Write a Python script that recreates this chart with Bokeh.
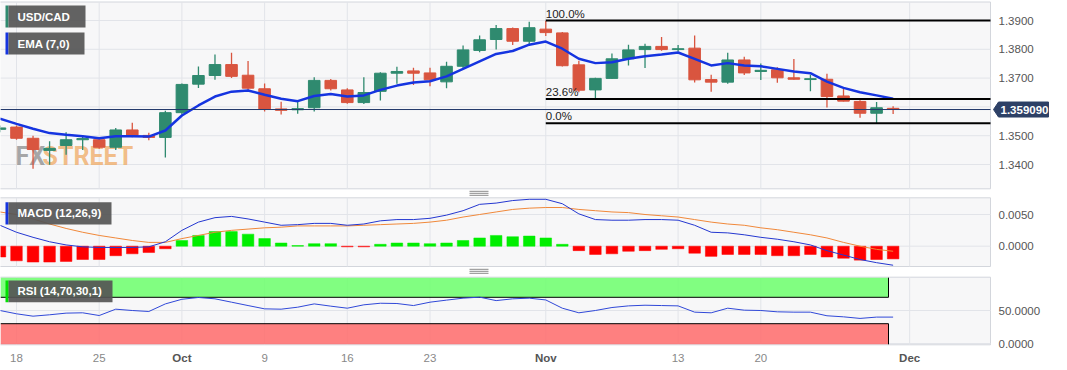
import numpy as np
from bokeh.plotting import figure
from bokeh.models import Range1d
from bokeh.core.properties import value
from bokeh.embed import file_html
from bokeh.resources import INLINE

# ---------------- data ----------------
dates = ["2023-09-15", "2023-09-18", "2023-09-19", "2023-09-20", "2023-09-21", "2023-09-22",
         "2023-09-25", "2023-09-26", "2023-09-27", "2023-09-28", "2023-09-29",
         "2023-10-02", "2023-10-03", "2023-10-04", "2023-10-05", "2023-10-06",
         "2023-10-09", "2023-10-10", "2023-10-11", "2023-10-12", "2023-10-13",
         "2023-10-16", "2023-10-17", "2023-10-18", "2023-10-19", "2023-10-20",
         "2023-10-23", "2023-10-24", "2023-10-25", "2023-10-26", "2023-10-27",
         "2023-10-30", "2023-10-31",
         "2023-11-01", "2023-11-02", "2023-11-03", "2023-11-06", "2023-11-07",
         "2023-11-08", "2023-11-09", "2023-11-10", "2023-11-13", "2023-11-14",
         "2023-11-15", "2023-11-16", "2023-11-17", "2023-11-20", "2023-11-21",
         "2023-11-22", "2023-11-23", "2023-11-24", "2023-11-27", "2023-11-28",
         "2023-11-29", "2023-11-30"]
opens = [1.3522, 1.3530, 1.3491, 1.3449, 1.3466, 1.3486, 1.3486, 1.3460, 1.3520, 1.3501, 1.3494,
         1.3580, 1.3679, 1.3709, 1.3747, 1.3710, 1.3663, 1.3593, 1.3590, 1.3597, 1.3692, 1.3659,
         1.3615, 1.3654, 1.3717, 1.3725, 1.3718, 1.3687, 1.3741, 1.3796, 1.3834, 1.3872, 1.3828,
         1.3870, 1.3857, 1.3746, 1.3659, 1.3699, 1.3767, 1.3799, 1.3810, 1.3799, 1.3804, 1.3695,
         1.3686, 1.3763, 1.3723, 1.3729, 1.3701, 1.3695, 1.3696, 1.3638, 1.3619, 1.3578, 1.3595]
highs = [1.3535, 1.3535, 1.3500, 1.3481, 1.3512, 1.3500, 1.3490, 1.3527, 1.3545, 1.3510, 1.3587,
         1.3681, 1.3740, 1.3782, 1.3788, 1.3759, 1.3681, 1.3618, 1.3620, 1.3703, 1.3697, 1.3665,
         1.3703, 1.3720, 1.3739, 1.3736, 1.3736, 1.3757, 1.3813, 1.3848, 1.3884, 1.3876, 1.3896,
         1.3899, 1.3860, 1.3760, 1.3701, 1.3785, 1.3816, 1.3819, 1.3843, 1.3815, 1.3848, 1.3712,
         1.3788, 1.3774, 1.3751, 1.3738, 1.3766, 1.3712, 1.3715, 1.3662, 1.3623, 1.3617, 1.3602]
lows = [1.3512, 1.3486, 1.3385, 1.3399, 1.3434, 1.3450, 1.3455, 1.3450, 1.3495, 1.3484, 1.3424,
        1.3573, 1.3666, 1.3694, 1.3700, 1.3657, 1.3584, 1.3574, 1.3576, 1.3584, 1.3657, 1.3611,
        1.3610, 1.3622, 1.3680, 1.3676, 1.3672, 1.3665, 1.3732, 1.3790, 1.3799, 1.3815, 1.3813,
        1.3846, 1.3740, 1.3651, 1.3631, 1.3698, 1.3744, 1.3735, 1.3795, 1.3792, 1.3685, 1.3653,
        1.3680, 1.3711, 1.3693, 1.3684, 1.3694, 1.3654, 1.3598, 1.3619, 1.3562, 1.3543, 1.3575]
closes = [1.3527, 1.3491, 1.3452, 1.3456, 1.3486, 1.3490, 1.3460, 1.3520, 1.3501, 1.3494, 1.3580,
          1.3678, 1.3709, 1.3747, 1.3706, 1.3665, 1.3593, 1.3588, 1.3594, 1.3692, 1.3663, 1.3615,
          1.3650, 1.3717, 1.3723, 1.3717, 1.3694, 1.3741, 1.3798, 1.3833, 1.3872, 1.3828, 1.3875,
          1.3858, 1.3743, 1.3658, 1.3699, 1.3767, 1.3798, 1.3810, 1.3799, 1.3802, 1.3694, 1.3686,
          1.3763, 1.3718, 1.3727, 1.3701, 1.3696, 1.3698, 1.3636, 1.3620, 1.3578, 1.3597, 1.3591]
ema7 = [1.3559, 1.3541, 1.3524, 1.3509, 1.3503, 1.3498, 1.3491, 1.3498, 1.3498, 1.3497, 1.3518,
        1.3570, 1.3605, 1.3636, 1.3653, 1.3657, 1.3642, 1.3628, 1.3620, 1.3638, 1.3645, 1.3636,
        1.3640, 1.3659, 1.3674, 1.3685, 1.3689, 1.3706, 1.3732, 1.3758, 1.3784, 1.3794, 1.3816,
        1.3827, 1.3802, 1.3767, 1.3752, 1.3755, 1.3767, 1.3776, 1.3782, 1.3789, 1.3767, 1.3744,
        1.3752, 1.3744, 1.3741, 1.3732, 1.3723, 1.3717, 1.3688, 1.3666, 1.3651, 1.3640, 1.3628]
macd = [0.0033, 0.0022, 0.0014, 0.0007, 0.0002, -0.0001, -0.0002, -0.0002, -0.0002, -0.0001, 0.0007,
        0.0025, 0.0038, 0.0045, 0.0047, 0.0043, 0.0038, 0.0033, 0.0034, 0.0036, 0.0036, 0.0033,
        0.0035, 0.0040, 0.0042, 0.0042, 0.0044, 0.0049, 0.0056, 0.0066, 0.0068, 0.0072, 0.0074,
        0.0074, 0.0067, 0.0051, 0.0042, 0.0041, 0.0041, 0.0042, 0.0042, 0.0041, 0.0033, 0.0022,
        0.0021, 0.0018, 0.0014, 0.0011, 0.0007, 0.0002, -0.0007, -0.0014, -0.0021, -0.0026, -0.0030]
signal = [0.0054, 0.0050, 0.0043, 0.0035, 0.0028, 0.0022, 0.0017, 0.0013, 0.0009, 0.0006, 0.0006,
          0.0012, 0.0017, 0.0022, 0.0025, 0.0027, 0.0029, 0.0030, 0.0032, 0.0032, 0.0032, 0.0032,
          0.0033, 0.0034, 0.0035, 0.0036, 0.0038, 0.0041, 0.0046, 0.0050, 0.0054, 0.0058, 0.0060,
          0.0061, 0.0061, 0.0058, 0.0056, 0.0054, 0.0053, 0.0050, 0.0048, 0.0046, 0.0042, 0.0038,
          0.0035, 0.0033, 0.0029, 0.0026, 0.0022, 0.0018, 0.0013, 0.0006, 0.0000, -0.0005, -0.0008]
hist = [-0.0017, -0.0023, -0.0025, -0.0025, -0.0024, -0.0021, -0.0021, -0.0015, -0.0012, -0.0010, -0.0004,
        0.0009, 0.0017, 0.0023, 0.0023, 0.0019, 0.0012, 0.0005, 0.0001, 0.0004, 0.0004, -0.0001,
        -0.0001, 0.0003, 0.0005, 0.0005, 0.0004, 0.0005, 0.0009, 0.0013, 0.0017, 0.0015, 0.0016,
        0.0013, 0.0003, -0.0007, -0.0013, -0.0012, -0.0008, -0.0007, -0.0005, -0.0004, -0.0011, -0.0016,
        -0.0013, -0.0013, -0.0013, -0.0015, -0.0015, -0.0013, -0.0017, -0.0019, -0.0022, -0.0021, -0.0020]
rsi = [50, 45, 41.4, 43.5, 46, 46.5, 42.4, 52, 50, 48.5, 60,
       67, 69.7, 67.7, 62.6, 57.5, 52.5, 52, 55, 60, 56.6, 53.5,
       58.6, 61, 60.6, 57.5, 62.6, 65.7, 68.7, 70.2, 65, 67.7, 68.7,
       66, 53.5, 46.5, 50, 54.5, 57, 58, 57.5, 57, 47.5, 46.5,
       53.5, 50.5, 50, 48, 47.5, 47.5, 42, 40.4, 38, 40, 40]
tick_dates = ["2023-09-18", "2023-09-25", "2023-10-02", "2023-10-09", "2023-10-16",
              "2023-10-23", "2023-11-01", "2023-11-13", "2023-11-20", "2023-12-01"]
tick_labels = ["18", "25", "Oct", "9", "16", "23", "Nov", "13", "20", "Dec"]
price_ticks = [1.34, 1.35, 1.36, 1.37, 1.38, 1.39]
price_tick_shown = [True, True, False, True, True, True]
macd_ticks = [0.0, 0.005]
rsi_ticks = [0, 50]
last_price = 1.35909
fib_high = 1.3900
fib_low = 1.3543
fib_start = "2023-11-01"
fib_ratios = [1.0, 0.236, 0.0]
fib_texts = ["100.0%", "23.6%", "0.0%"]
rsi_upper, rsi_lower = 70, 30

# ---------------- pixel geometry ----------------
W, H = 1052, 366
BASE = "2023-09-18"
def xi(d):
    return float(np.busday_count(BASE, d))

X0, DX = 16.0, 16.54
def X(px):
    return (px - X0) / DX
def PM(py):                      # main panel pixel -> price
    return 1.39 - (py - 20.0) / 2880.0
def PD(py):                      # macd panel pixel -> value
    return (245.7 - py) / 6340.0
def PR(py):                      # rsi panel pixel -> value
    return (343.0 - py) / 0.66

FRAME_R = 990
MAIN = (1.5, 188.3)
MACDP = (197.3, 266.0)
RSIP = (276.7, 344.3)

FONT = "Liberation Sans"
GREEN = "#2f8a6f"
RED = "#d9553f"
BG = "#f7f7f8"
GRID = "#e2e4e9"
OUTLINE = "#d3d6dc"
TAG = "#2d4066"

p = figure(width=W, height=H, x_range=Range1d(X(0), X(W)), y_range=Range1d(PM(H), PM(0)),
           x_axis_location=None, y_axis_location=None, toolbar_location=None,
           output_backend="svg", min_border=0)
p.extra_y_ranges = {"macd": Range1d(PD(H), PD(0)), "rsi": Range1d(PR(H), PR(0))}
p.background_fill_color = "white"
p.border_fill_color = "white"
p.outline_line_color = None
p.xgrid.visible = False
p.ygrid.visible = False

idx = np.array([xi(d) for d in dates])
o, h, l, c = map(np.array, (opens, highs, lows, closes))
up = c >= o
xt = [xi(d) for d in tick_dates]

def panel(rng, conv, yname, yticks):
    top, bot = conv(rng[0]), conv(rng[1])
    p.quad(left=[X(-1)], right=[X(FRAME_R)], top=[top], bottom=[bot], fill_color=BG,
           line_color=OUTLINE, line_width=1, y_range_name=yname)
    p.segment(x0=xt, x1=xt, y0=[bot] * len(xt), y1=[top] * len(xt), color=GRID,
              line_width=1, y_range_name=yname)
    p.segment(x0=[X(0)] * len(yticks), x1=[X(FRAME_R)] * len(yticks), y0=yticks, y1=yticks,
              color=GRID, line_width=1, y_range_name=yname)

panel(MAIN, PM, "default", price_ticks)
panel(MACDP, PD, "macd", macd_ticks)
panel(RSIP, PR, "rsi", rsi_ticks)

# ---------------- main panel ----------------
p.text(x=[X(15)], y=[PM(156)], text=["FX"], text_font=value("Roboto"),
       text_font_size="25px", text_font_style="bold", text_color="#8c8c8c", text_alpha=0.75,
       text_baseline="middle")
p.text(x=[X(42)], y=[PM(156)], text=["STREET"], text_font=value("Roboto"),
       text_font_size="25px", text_font_style="bold", text_color="#f0ae6a", text_alpha=0.8,
       text_baseline="middle")

colors = [GREEN if u else RED for u in up]
p.segment(x0=idx, x1=idx, y0=l, y1=h, color=colors, line_width=1.3)
p.vbar(x=idx, width=0.7, top=np.maximum(o, c), bottom=np.minimum(o, c),
       fill_color=colors, line_color=colors, line_width=1)
p.line(idx, ema7, color="#1534e0", line_width=2.5)
p.segment(x0=[X(0)], x1=[X(FRAME_R)], y0=[last_price], y1=[last_price], color="#22386a", line_width=1)

fx0 = xi(fib_start)
for r, t in zip(fib_ratios, fib_texts):
    lvl = fib_low + r * (fib_high - fib_low)
    p.segment(x0=[fx0], x1=[X(FRAME_R)], y0=[lvl], y1=[lvl], color="black", line_width=2)
    p.text(x=[fx0], y=[lvl], text=[t], text_font=value(FONT), text_font_size="11.5px",
           text_color="#222222", text_baseline="bottom", y_offset=-1)

def legend_box(top_px, bot_px, right_px, stripe, text, conv, yname):
    p.quad(left=[X(5)], right=[X(8)], top=[conv(top_px)], bottom=[conv(bot_px)],
           fill_color=stripe, line_color=None, y_range_name=yname)
    p.quad(left=[X(8)], right=[X(right_px)], top=[conv(top_px)], bottom=[conv(bot_px)],
           fill_color="#555555", fill_alpha=0.92, line_color=None, y_range_name=yname)
    p.text(x=[X(17)], y=[conv((top_px + bot_px) / 2.0)], text=[text], text_color="white",
           text_font=value(FONT), text_font_style="bold", text_font_size="11.5px",
           text_baseline="middle", y_range_name=yname)

legend_box(5, 27, 85, GREEN, "USD/CAD", PM, "default")
legend_box(32, 54, 84, "#1534e0", "EMA (7,0)", PM, "default")

# right axis labels
for v, s in zip(price_ticks, price_tick_shown):
    if s:
        p.text(x=[X(998)], y=[v], text=[f"{v:.4f}"], text_font=value(FONT), text_font_size="11.5px",
               text_color="#555555", text_baseline="middle")
for v in macd_ticks:
    p.text(x=[X(998)], y=[v], text=[f"{v:.4f}"], text_font=value(FONT), text_font_size="11.5px",
           text_color="#555555", text_baseline="middle", y_range_name="macd")
for v in rsi_ticks:
    p.text(x=[X(998)], y=[v], text=[f"{v:.4f}"], text_font=value(FONT), text_font_size="11.5px",
           text_color="#555555", text_baseline="middle", y_range_name="rsi")

# current price tag
tag_px = [993, 998, 1048, 1048, 998]
tag_py = [0, -7.5, -7.5, 7.5, 7.5]
ly = 20.0 + (1.39 - last_price) * 2880.0
p.patch(x=[X(v) for v in tag_px], y=[PM(ly + d) for d in tag_py], fill_color=TAG, line_color=TAG)
p.text(x=[X(1000)], y=[last_price], text=[f"{last_price:.6f}"], text_color="white",
       text_font=value(FONT), text_font_style="bold", text_font_size="11.5px", text_baseline="middle")

# panel grips
for gy in (190.8, 268.8):
    for k in range(3):
        yy = PM(gy + 2 * k)
        p.segment(x0=[X(469)], x1=[X(488)], y0=[yy], y1=[yy], color="#8a8a8a", line_width=1)

# ---------------- MACD panel ----------------
hv = np.array(hist)
hcol = ["#00ee00" if v >= 0 else "#ff0000" for v in hv]
p.vbar(x=idx, width=0.7, top=np.maximum(hv, 0), bottom=np.minimum(hv, 0),
       fill_color=hcol, line_color=hcol, line_width=0.5, y_range_name="macd")
p.line(idx, signal, color="#f0883a", line_width=1, y_range_name="macd")
p.line(idx, macd, color="#2437d0", line_width=1, y_range_name="macd")
legend_box(201.7, 224, 111, "#1534e0", "MACD (12,26,9)", PD, "macd")

# ---------------- RSI panel ----------------
band_end = X(888)
p.quad(left=[X(0)], right=[band_end], bottom=[rsi_upper], top=[PR(RSIP[0] + 0.5)],
       fill_color="#6cff6c", fill_alpha=0.85, line_color=None, y_range_name="rsi")
p.quad(left=[X(0)], right=[band_end], bottom=[PR(RSIP[1] - 0.5)], top=[rsi_lower],
       fill_color="#ff6b6b", fill_alpha=0.85, line_color=None, y_range_name="rsi")
p.segment(x0=[X(0), X(0), band_end, band_end], x1=[band_end, band_end, band_end, band_end],
          y0=[rsi_upper, rsi_lower, rsi_upper, rsi_lower],
          y1=[rsi_upper, rsi_lower, PR(RSIP[0] + 0.5), PR(RSIP[1] - 0.5)],
          color="black", line_width=1, y_range_name="rsi")
p.line(idx, rsi, color="#3048d8", line_width=1, y_range_name="rsi")
legend_box(280, 301.7, 112, "#00e000", "RSI (14,70,30,1)", PR, "rsi")

# x labels
for t, s in zip(xt, tick_labels):
    month = s.isalpha()
    p.text(x=[t], y=[PM(357)], text=[s], text_font=value(FONT), text_font_size="11.5px",
           text_font_style="bold" if month else "normal",
           text_color="#555555" if month else "#888888",
           text_align="center", text_baseline="middle")

open("out.html", "w").write(file_html(p, INLINE))
